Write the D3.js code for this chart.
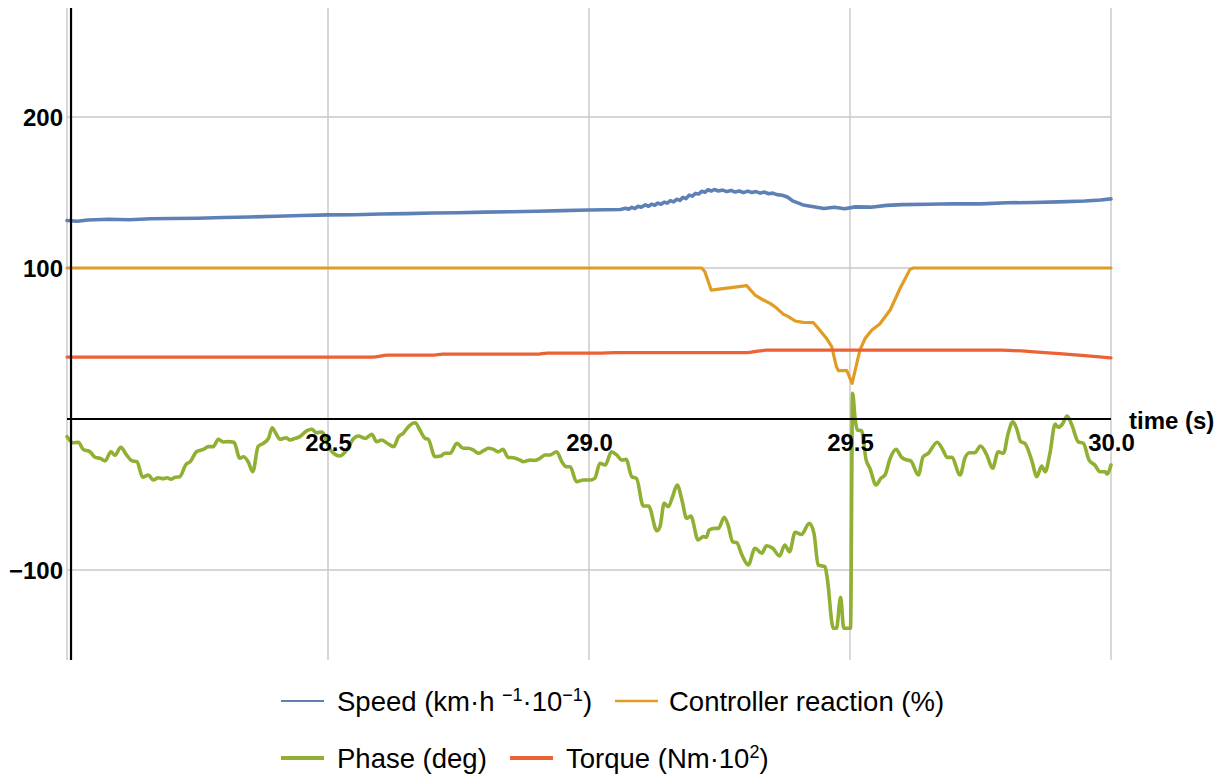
<!DOCTYPE html>
<html>
<head>
<meta charset="utf-8">
<script src="https://cdn.jsdelivr.net/npm/d3@7"></script>
<style>
  html, body { margin: 0; padding: 0; background: #fff; }
  svg { display: block; font-family: "Liberation Sans", Arial, sans-serif; }
</style>
</head>
<body>
<svg id="chart" width="1226" height="776"></svg>
<script>
// ---- data -------------------------------------------------------------
const timeTicks = [28.5, 29.0, 29.5, 30.0];
const valueTicks = [-100, 100, 200];
const gridTimes = [28.0, 28.5, 29.0, 29.5, 30.0];
const gridValues = [-100, 100, 200];

const speedTime = [28.000, 28.020, 28.040, 28.080, 28.120, 28.160, 28.200, 28.250, 28.300, 28.350,
  28.400, 28.450, 28.500, 28.550, 28.600, 28.650, 28.700, 28.750, 28.800, 28.850, 28.900, 28.950,
  29.000, 29.030, 29.060, 29.070, 29.076, 29.082, 29.088, 29.094, 29.100, 29.108, 29.114, 29.120,
  29.126, 29.132, 29.138, 29.144, 29.150, 29.156, 29.162, 29.168, 29.174, 29.180, 29.186, 29.192,
  29.198, 29.204, 29.210, 29.216, 29.222, 29.228, 29.234, 29.240, 29.248, 29.256, 29.264, 29.272,
  29.280, 29.288, 29.296, 29.304, 29.312, 29.320, 29.328, 29.336, 29.344, 29.352, 29.360, 29.370,
  29.380, 29.390, 29.410, 29.430, 29.450, 29.470, 29.490, 29.510, 29.540, 29.570, 29.600, 29.650,
  29.700, 29.750, 29.800, 29.850, 29.900, 29.950, 29.980, 30.000];
const speedValue = [131.5, 131.0, 131.8, 132.3, 132.0, 132.6, 132.8, 133.0, 133.5, 133.8,
  134.3, 134.8, 135.2, 135.3, 135.8, 136.0, 136.4, 136.6, 137.0, 137.3, 137.6, 138.0,
  138.4, 138.6, 138.8, 139.6, 138.9, 140.2, 139.4, 140.9, 140.2, 141.8, 140.9, 142.3,
  141.6, 143.0, 142.2, 143.6, 143.0, 144.6, 143.8, 145.5, 144.8, 146.8, 146.0, 148.3,
  147.6, 149.4, 149.0, 150.8, 150.2, 151.8, 151.0, 152.0, 151.0, 151.6, 150.6, 151.4,
  150.3, 151.0, 149.9, 150.9, 150.0, 150.6, 149.6, 150.3, 149.2, 149.6, 148.6, 148.2,
  147.0, 144.5, 141.8, 140.6, 139.4, 140.3, 139.2, 140.5, 140.3, 141.5, 142.0, 142.2,
  142.6, 142.5, 143.2, 143.4, 143.8, 144.4, 145.0, 145.8];

const controlTime = [28.000, 29.207, 29.216, 29.222, 29.234, 29.302, 29.318, 29.334, 29.347, 29.360,
  29.372, 29.382, 29.395, 29.410, 29.430, 29.439, 29.455, 29.465, 29.474, 29.478, 29.494, 29.504,
  29.519, 29.529, 29.542, 29.557, 29.577, 29.596, 29.615, 29.621, 30.000];
const controlValue = [100, 100, 100, 97.5, 85.4, 88.3, 82.1, 78.8, 76.6, 73.3,
  69.5, 67.8, 64.9, 64.0, 63.8, 60.1, 53.4, 47.9, 34.6, 32.0, 32.0, 23.6,
  45.7, 53.4, 58.9, 62.9, 72.2, 86.6, 99.1, 100, 100];

const phaseTime = [28.000, 28.012, 28.022, 28.031, 28.044, 28.054, 28.063, 28.073, 28.084, 28.092,
  28.103, 28.114, 28.124, 28.134, 28.145, 28.156, 28.165, 28.175, 28.184, 28.192, 28.199, 28.207,
  28.216, 28.228, 28.236, 28.248, 28.261, 28.271, 28.280, 28.290, 28.299, 28.309, 28.320, 28.331,
  28.338, 28.347, 28.356, 28.366, 28.376, 28.386, 28.393, 28.400, 28.408, 28.420, 28.427, 28.437,
  28.446, 28.459, 28.469, 28.478, 28.488, 28.504, 28.523, 28.536, 28.548, 28.558, 28.571, 28.584,
  28.593, 28.603, 28.612, 28.626, 28.635, 28.644, 28.654, 28.667, 28.676, 28.686, 28.692, 28.705,
  28.716, 28.724, 28.734, 28.747, 28.759, 28.769, 28.778, 28.788, 28.798, 28.807, 28.817, 28.826,
  28.835, 28.845, 28.855, 28.868, 28.874, 28.887, 28.897, 28.906, 28.916, 28.925, 28.938, 28.948,
  28.957, 28.964, 28.976, 28.989, 29.002, 29.011, 29.021, 29.031, 29.043, 29.053, 29.063, 29.071,
  29.082, 29.091, 29.104, 29.114, 29.130, 29.136, 29.144, 29.152, 29.160, 29.169, 29.178, 29.187,
  29.195, 29.209, 29.219, 29.225, 29.230, 29.241, 29.248, 29.259, 29.267, 29.275, 29.283, 29.293,
  29.305, 29.318, 29.331, 29.340, 29.352, 29.365, 29.375, 29.384, 29.395, 29.407, 29.422, 29.431,
  29.439, 29.452, 29.456, 29.468, 29.474, 29.482, 29.488, 29.501, 29.505, 29.510, 29.514, 29.522,
  29.531, 29.538, 29.550, 29.559, 29.567, 29.577, 29.588, 29.599, 29.609, 29.616, 29.631, 29.640,
  29.650, 29.667, 29.678, 29.686, 29.695, 29.711, 29.720, 29.729, 29.739, 29.750, 29.762, 29.773,
  29.784, 29.794, 29.803, 29.812, 29.819, 29.827, 29.835, 29.848, 29.858, 29.867, 29.874, 29.883,
  29.893, 29.899, 29.907, 29.916, 29.925, 29.937, 29.947, 29.958, 29.969, 29.979, 29.989, 29.992,
  30.000];
const phaseValue = [-11.7, -15.7, -15.4, -20.1, -21.7, -25.4, -26.0, -27.8, -21.7, -24.0,
  -18.7, -23.8, -27.6, -28.3, -38.6, -37.1, -40.4, -38.9, -39.5, -38.9, -39.9, -38.6,
  -38.2, -30.0, -28.3, -21.7, -20.1, -18.3, -18.3, -13.4, -15.2, -15.0, -15.4, -26.0,
  -25.0, -28.3, -34.9, -18.3, -16.1, -12.8, -5.8, -9.5, -13.4, -12.4, -13.9, -12.8,
  -11.7, -7.9, -6.8, -9.1, -8.6, -20.1, -24.5, -20.5, -13.4, -11.3, -12.8, -10.1,
  -15.0, -13.9, -15.7, -18.3, -11.7, -9.5, -5.1, -2.5, -7.3, -12.8, -13.4, -25.0,
  -24.5, -22.7, -22.7, -16.1, -19.4, -19.4, -20.5, -22.7, -21.0, -19.4, -20.1, -21.7,
  -20.1, -25.4, -25.6, -27.2, -28.3, -27.2, -27.4, -26.0, -23.8, -23.8, -21.7, -28.3,
  -31.6, -31.6, -41.5, -40.4, -40.4, -39.3, -29.3, -30.5, -21.7, -23.8, -27.2, -26.7,
  -38.2, -39.3, -57.6, -57.6, -74.0, -71.3, -55.8, -58.1, -51.5, -43.7, -53.6, -65.8,
  -64.2, -80.1, -77.9, -78.3, -73.5, -72.4, -72.4, -65.1, -70.9, -81.3, -81.9, -90.1,
  -96.7, -85.6, -88.9, -83.9, -85.6, -90.7, -83.4, -87.9, -75.0, -76.4, -69.1, -75.7,
  -96.7, -97.8, -104.4, -138.6, -138.6, -118.1, -138.6, -138.6, 17.0, -0.7, -7.3, -7.7,
  -27.2, -32.6, -43.7, -39.3, -37.1, -26.0, -20.1, -25.4, -27.2, -27.6, -37.1, -25.0,
  -22.7, -15.4, -20.5, -25.4, -25.4, -37.1, -26.0, -22.3, -22.3, -17.9, -23.8, -32.6,
  -21.7, -22.7, -9.5, -1.8, -6.2, -15.0, -16.1, -27.2, -38.2, -31.1, -34.9, -22.7,
  -3.3, -5.5, -3.3, 2.0, -4.0, -15.0, -16.1, -27.2, -30.5, -34.9, -34.9, -36.4,
  -30.5];

const torqueTime = [28.000, 28.585, 28.615, 28.700, 28.720, 28.900, 28.920, 29.020, 29.050, 29.300,
  29.340, 29.790, 29.860, 29.950, 30.000];
const torqueValue = [41.0, 41.0, 42.3, 42.3, 43.0, 43.0, 43.7, 43.7, 44.0, 43.9,
  45.6, 45.6, 44.3, 42.0, 40.5];

const seriesNames = ["Speed", "Controller reaction", "Phase", "Torque"];
const seriesColors = ["#5E81B5", "#E19C24", "#8FB032", "#EB6235"];

// ---- layout -----------------------------------------------------------
const svg = d3.select("#chart");
const x = d3.scaleLinear().domain([28.0, 30.0]).range([67, 1111]);
const y = d3.scaleLinear().domain([-159.6, 272.2]).range([660, 8]);
const axisTime = 28.0077;   // vertical axis sits just right of the first grid line

// grid
const grid = svg.append("g").attr("stroke", "#c8c8c8").attr("stroke-width", 1.4);
grid.selectAll("line.gx").data(gridTimes).join("line")
  .attr("class", "gx")
  .attr("x1", d => x(d)).attr("x2", d => x(d))
  .attr("y1", y.range()[1]).attr("y2", y.range()[0]);
grid.selectAll("line.gy").data(gridValues).join("line")
  .attr("class", "gy")
  .attr("x1", x.range()[0]).attr("x2", x.range()[1])
  .attr("y1", d => y(d)).attr("y2", d => y(d));

// series
function series(times, values) { return times.map((t, i) => [t, values[i]]); }
const lineLinear = d3.line().x(d => x(d[0])).y(d => y(d[1]));
const lineSmooth = d3.line().x(d => x(d[0])).y(d => y(d[1])).curve(d3.curveMonotoneX);

const plot = svg.append("g").attr("fill", "none").attr("stroke-linejoin", "round").attr("stroke-linecap", "round");
plot.append("path").datum(series(speedTime, speedValue))
  .attr("d", lineLinear).attr("stroke", seriesColors[0]).attr("stroke-width", 3.6);
plot.append("path").datum(series(controlTime, controlValue))
  .attr("d", lineLinear).attr("stroke", seriesColors[1]).attr("stroke-width", 3.2);
plot.append("path").datum(series(torqueTime, torqueValue))
  .attr("d", lineSmooth).attr("stroke", seriesColors[3]).attr("stroke-width", 3.2);
plot.append("path").datum(series(phaseTime, phaseValue))
  .attr("d", lineSmooth).attr("stroke", seriesColors[2]).attr("stroke-width", 3.6);

// axes
const xAxis = d3.axisBottom(x).tickValues(timeTicks).tickFormat(d3.format(".1f"))
  .tickSize(0).tickPadding(15);
const yAxis = d3.axisLeft(y).tickValues(valueTicks).tickFormat(d3.format("d"))
  .tickSize(0).tickPadding(8);

const gx = svg.append("g").attr("transform", `translate(0,${y(0)})`).call(xAxis);
const gy = svg.append("g").attr("transform", `translate(${x(axisTime)},0)`).call(yAxis);
[gx, gy].forEach(g => {
  g.select(".domain").remove();
  g.selectAll("text").attr("font-size", 24).attr("font-weight", "bold")
    .attr("fill", "#000").attr("font-family", "'Liberation Sans', Arial, sans-serif");
});
gy.selectAll("text").attr("dy", "0.36em");

svg.append("line")
  .attr("x1", x.range()[0]).attr("x2", x.range()[1])
  .attr("y1", y(0)).attr("y2", y(0))
  .attr("stroke", "#000").attr("stroke-width", 2.2);
svg.append("line")
  .attr("x1", x(axisTime)).attr("x2", x(axisTime))
  .attr("y1", y.range()[1]).attr("y2", y.range()[0])
  .attr("stroke", "#000").attr("stroke-width", 2.2);

svg.append("text")
  .attr("x", 1129).attr("y", 429)
  .attr("font-size", 24).attr("font-weight", "bold")
  .text("time (s)");

// legend
const legendLabels = [
  [["Speed (km·h ", 0], ["−1", 1], ["·10", 0], ["−1", 1], [")", 0]],
  [["Controller reaction (%)", 0]],
  [["Phase (deg)", 0]],
  [["Torque (Nm·10", 0], ["2", 1], [")", 0]]
];
const legendPos = [
  { x: 281, y: 701, tx: 337, w: 2.0 },
  { x: 615, y: 701, tx: 669, w: 2.6 },
  { x: 281, y: 758, tx: 337, w: 3.8 },
  { x: 510, y: 758, tx: 566, w: 3.8 }
];

const legend = svg.append("g");
const items = legend.selectAll("g").data(seriesNames).join("g");
items.append("line")
  .attr("x1", (d, i) => legendPos[i].x).attr("x2", (d, i) => legendPos[i].x + 43)
  .attr("y1", (d, i) => legendPos[i].y).attr("y2", (d, i) => legendPos[i].y)
  .attr("stroke", (d, i) => seriesColors[i])
  .attr("stroke-width", (d, i) => legendPos[i].w);
items.append("text")
  .attr("x", (d, i) => legendPos[i].tx)
  .attr("y", (d, i) => legendPos[i].y + 10)
  .attr("font-size", 27.5)
  .attr("fill", "#000")
  .each(function (d, i) {
    const t = d3.select(this);
    legendLabels[i].forEach(([s, sup]) => {
      const span = t.append("tspan").text(s);
      if (sup) span.attr("font-size", 18).attr("baseline-shift", "10");
    });
  });
</script>
</body>
</html>
